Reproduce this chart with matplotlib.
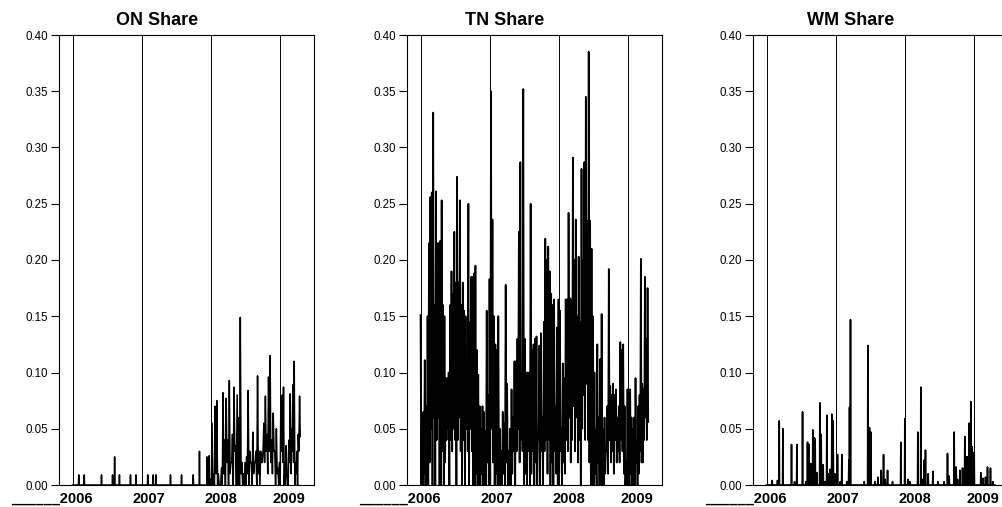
import numpy as np
import matplotlib
matplotlib.use("Agg")
import matplotlib.pyplot as plt

plt.rcParams['font.family'] = ['Liberation Sans', 'DejaVu Sans']

# ---- data ----
years = [2006, 2007, 2008, 2009]
year_labels = ['______2006', '2007', '2008', '2009']
data_end = 2009.31

# TN share: weekly highs / lows, per year
tn_peaks_2006 = [0.151, 0.061, 0.065, 0.111, 0.070, 0.150, 0.215, 0.256, 0.260, 0.331,
                 0.160, 0.261, 0.215, 0.215, 0.217, 0.253, 0.160, 0.150, 0.095, 0.095,
                 0.100, 0.160, 0.190, 0.170, 0.225, 0.180, 0.274, 0.180, 0.253, 0.160,
                 0.180, 0.155, 0.150, 0.110, 0.250, 0.145, 0.185, 0.185, 0.188, 0.195,
                 0.120, 0.098, 0.070, 0.050, 0.070, 0.065, 0.048, 0.155, 0.080]
tn_lows_2006 = [0.000, 0.000, 0.010, 0.000, 0.000, 0.000, 0.020, 0.050, 0.000, 0.060,
                0.000, 0.040, 0.060, 0.000, 0.000, 0.030, 0.000, 0.020, 0.040, 0.050,
                0.000, 0.040, 0.030, 0.050, 0.040, 0.000, 0.040, 0.060, 0.030, 0.000,
                0.040, 0.000, 0.050, 0.030, 0.000, 0.050, 0.030, 0.000, 0.000, 0.010,
                0.000, 0.000, 0.000, 0.010, 0.000, 0.000, 0.000, 0.020, 0.000]
tn_peaks_2007 = [0.183, 0.350, 0.236, 0.150, 0.125, 0.120, 0.150, 0.050, 0.030, 0.065,
                 0.055, 0.178, 0.090, 0.030, 0.050, 0.085, 0.060, 0.110, 0.110, 0.130,
                 0.225, 0.287, 0.100, 0.352, 0.130, 0.100, 0.100, 0.100, 0.250, 0.120,
                 0.125, 0.130, 0.132, 0.040, 0.124, 0.135, 0.060, 0.145, 0.219, 0.200,
                 0.212, 0.190, 0.170, 0.160, 0.165, 0.070, 0.140]
tn_lows_2007 = [0.000, 0.050, 0.020, 0.000, 0.010, 0.000, 0.000, 0.000, 0.000, 0.010,
                0.000, 0.020, 0.000, 0.000, 0.000, 0.010, 0.030, 0.000, 0.030, 0.050,
                0.020, 0.040, 0.030, 0.000, 0.010, 0.000, 0.030, 0.000, 0.010, 0.030,
                0.000, 0.020, 0.000, 0.040, 0.000, 0.030, 0.000, 0.030, 0.040, 0.010,
                0.040, 0.000, 0.020, 0.000, 0.030, 0.010, 0.000]
tn_peaks_2008 = [0.165, 0.155, 0.050, 0.108, 0.095, 0.165, 0.165, 0.242, 0.166, 0.165,
                 0.291, 0.200, 0.236, 0.150, 0.203, 0.145, 0.281, 0.200, 0.287, 0.345,
                 0.235, 0.385, 0.235, 0.210, 0.150, 0.100, 0.050, 0.125, 0.060, 0.112,
                 0.152, 0.050, 0.060, 0.030, 0.070, 0.192, 0.088, 0.080, 0.090, 0.080,
                 0.085, 0.060, 0.070, 0.127, 0.120, 0.125, 0.070, 0.020]
tn_lows_2008 = [0.010, 0.030, 0.000, 0.020, 0.010, 0.040, 0.030, 0.060, 0.020, 0.040,
                0.070, 0.030, 0.060, 0.020, 0.040, 0.000, 0.050, 0.080, 0.040, 0.090,
                0.040, 0.020, 0.000, 0.000, 0.000, 0.010, 0.000, 0.020, 0.000, 0.000,
                0.000, 0.000, 0.010, 0.030, 0.010, 0.040, 0.020, 0.030, 0.010, 0.040,
                0.020, 0.030, 0.020, 0.040, 0.030, 0.010, 0.000, 0.000]
tn_peaks_2009 = [0.085, 0.030, 0.085, 0.060, 0.050, 0.060, 0.095, 0.040, 0.070, 0.080,
                 0.201, 0.090, 0.085, 0.185, 0.130, 0.175]
tn_lows_2009 = [0.000, 0.000, 0.010, 0.000, 0.000, 0.000, 0.020, 0.000, 0.010, 0.030,
                0.020, 0.020, 0.040, 0.060, 0.040, 0.056]

# ON share: isolated spikes 2006-2007, then weekly highs / lows
on_spike_dates = [2006.09, 2006.17, 2006.42, 2006.58, 2006.61, 2006.68, 2006.84, 2006.92,
                  2007.09, 2007.17, 2007.21, 2007.42, 2007.58, 2007.75, 2007.84, 2007.95,
                  2007.98]
on_spike_values = [0.009, 0.009, 0.009, 0.009, 0.025, 0.009, 0.009, 0.009,
                   0.009, 0.009, 0.009, 0.009, 0.009, 0.009, 0.030, 0.025,
                   0.026]
on_peaks_2008 = [0.005, 0.055, 0.010, 0.070, 0.075, 0.010, 0.000, 0.015, 0.082, 0.040,
                 0.077, 0.040, 0.093, 0.020, 0.045, 0.087, 0.035, 0.080, 0.060, 0.149,
                 0.020, 0.010, 0.020, 0.025, 0.084, 0.030, 0.020, 0.047, 0.020, 0.030,
                 0.097, 0.030, 0.030, 0.020, 0.055, 0.079, 0.045, 0.096, 0.115, 0.040,
                 0.064, 0.030, 0.050, 0.015]
on_lows_2008 = [0.000, 0.000, 0.000, 0.010, 0.000, 0.000, 0.000, 0.000, 0.010, 0.000, 0.020,
                0.000, 0.010, 0.020, 0.000, 0.030, 0.000, 0.000, 0.000, 0.010, 0.000, 0.000,
                0.000, 0.010, 0.000, 0.020, 0.000, 0.010, 0.020, 0.000, 0.010, 0.000, 0.020,
                0.030, 0.020, 0.030, 0.010, 0.030, 0.020, 0.010, 0.030, 0.000, 0.010, 0.000]
on_peaks_2009 = [0.020, 0.075, 0.080, 0.087, 0.020, 0.035, 0.005, 0.040, 0.081, 0.050,
                 0.089, 0.110, 0.020, 0.030, 0.045, 0.079]
on_lows_2009 = [0.000, 0.030, 0.020, 0.000, 0.000, 0.010, 0.000, 0.020, 0.010, 0.030,
                0.020, 0.000, 0.010, 0.000, 0.030, 0.043]

# WM share: spikes from a zero baseline
wm_dates = [2006.082, 2006.159, 2006.184, 2006.237, 2006.362, 2006.406, 2006.440, 2006.522,
            2006.570, 2006.594, 2006.614, 2006.643, 2006.671, 2006.691, 2006.705, 2006.729,
            2006.773, 2006.792, 2006.821, 2006.850, 2006.874, 2006.894, 2006.923, 2006.947,
            2006.966, 2006.990, 2007.029, 2007.068, 2007.092, 2007.164, 2007.193, 2007.203,
            2007.217, 2007.415, 2007.469, 2007.493, 2007.512, 2007.570, 2007.614, 2007.662,
            2007.696, 2007.720, 2007.754, 2007.826, 2007.947, 2008.005, 2008.048, 2008.077,
            2008.193, 2008.237, 2008.261, 2008.285, 2008.304, 2008.343, 2008.411, 2008.483,
            2008.575, 2008.623, 2008.647, 2008.720, 2008.749, 2008.768, 2008.802, 2008.841,
            2008.874, 2008.899, 2008.918, 2008.937, 2008.961, 2008.981, 2009.010, 2009.106,
            2009.135, 2009.174, 2009.203, 2009.246, 2009.280]
wm_values = [0.004, 0.004, 0.057, 0.050, 0.036, 0.003, 0.036, 0.065,
             0.003, 0.038, 0.036, 0.019, 0.049, 0.042, 0.041, 0.011,
             0.073, 0.045, 0.018, 0.003, 0.062, 0.010, 0.014, 0.063,
             0.057, 0.010, 0.027, 0.003, 0.027, 0.003, 0.022, 0.069,
             0.147, 0.003, 0.124, 0.051, 0.047, 0.003, 0.007, 0.013,
             0.027, 0.005, 0.013, 0.003, 0.038, 0.059, 0.005, 0.003,
             0.047, 0.087, 0.005, 0.022, 0.031, 0.010, 0.012, 0.003,
             0.003, 0.028, 0.008, 0.047, 0.016, 0.005, 0.013, 0.015,
             0.043, 0.025, 0.025, 0.055, 0.074, 0.034, 0.029, 0.011,
             0.006, 0.007, 0.016, 0.015, 0.003]


def zigzag(start, end, peaks, lows):
    # interleave highs and lows evenly over [start, end)
    vals = np.empty(2 * len(peaks))
    vals[0::2] = peaks
    vals[1::2] = lows
    x = start + (end - start) * np.arange(len(vals)) / len(vals)
    return x, vals


def spikes(dates, values, start, end, d=0.004):
    xs, ys = [start], [0.0]
    for t, v in zip(dates, values):
        xs += [t - d, t, t + d]
        ys += [0.0, v, 0.0]
    xs.append(end)
    ys.append(0.0)
    return np.array(xs), np.array(ys)


tn_parts = [zigzag(2006, 2007, tn_peaks_2006, tn_lows_2006),
            zigzag(2007, 2008, tn_peaks_2007, tn_lows_2007),
            zigzag(2008, 2009, tn_peaks_2008, tn_lows_2008),
            zigzag(2009, data_end, tn_peaks_2009, tn_lows_2009)]
tn_x = np.concatenate([p[0] for p in tn_parts])
tn_y = np.concatenate([p[1] for p in tn_parts])

on_sx, on_sy = spikes(on_spike_dates, on_spike_values, 2006.0, 2008.0)
on_a = zigzag(2008, 2009, on_peaks_2008, on_lows_2008)
on_b = zigzag(2009, data_end, on_peaks_2009, on_lows_2009)
on_x = np.concatenate([on_sx, on_a[0], on_b[0]])
on_y = np.concatenate([on_sy, on_a[1], on_b[1]])

wm_x, wm_y = spikes(wm_dates, wm_values, 2006.0, data_end)

panels = [('ON Share', on_x, on_y, 1.1), ('TN Share', tn_x, tn_y, 1.25),
          ('WM Share', wm_x, wm_y, 1.2)]

# ---- figure ----
W, H = 1003, 507
fig = plt.figure(figsize=(W / 100, H / 100), dpi=100)
lefts = [59, 407, 753]
axw, top, bottom = 255, 35, 485
label_pos = [2006.29, 2007.10, 2008.15, 2009.14]

for left, (title, x, y, lw) in zip(lefts, panels):
    ax = fig.add_axes([left / W, (H - bottom) / H, axw / W, (bottom - top) / H])
    for yr in years:
        ax.axvline(yr, color='black', lw=0.7, zorder=1)
    ax.plot(x, y, color='black', lw=lw, zorder=2)
    ax.set_xlim(2005.804, 2009.50)
    ax.set_ylim(0, 0.40)
    ax.set_yticks(np.arange(0, 0.401, 0.05))
    ax.set_yticklabels(['%.2f' % v for v in np.arange(0, 0.401, 0.05)])
    ax.set_xticks(label_pos)
    ax.set_xticklabels(year_labels, fontweight='bold', fontsize=10.5)
    ax.get_xticklabels()[0].set_ha('right')
    ax.tick_params(axis='x', length=0, pad=5)
    ax.tick_params(axis='y', length=5.5, width=0.8, pad=2.5, labelsize=8.3, direction='out')
    for s in ax.spines.values():
        s.set_linewidth(0.8)
    ax.text(0.384, 1.023, title, transform=ax.transAxes, ha='center', va='baseline',
            fontsize=13, fontweight='bold')

fig.savefig('out.png', dpi=100)
